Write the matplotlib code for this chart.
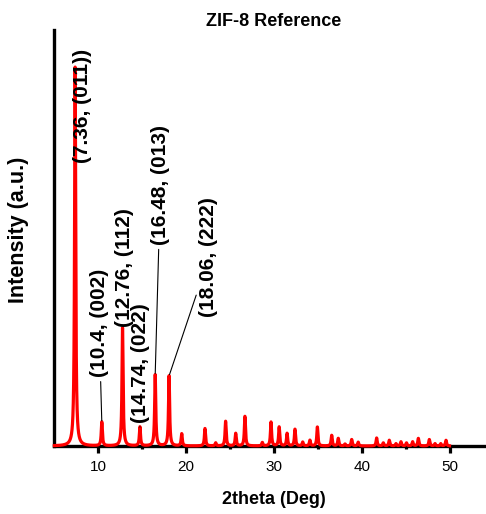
import numpy as np
import matplotlib
matplotlib.use("Agg")
import matplotlib.pyplot as plt

plt.rcParams["font.family"] = ["Liberation Sans", "DejaVu Sans"]

# Reflection positions (2theta, deg) and relative intensities of the ZIF-8 reference pattern
peak_pos = [7.36, 10.40, 12.76, 14.74, 16.48, 18.06, 19.50, 22.15, 23.37, 24.50,
            25.65, 26.70, 28.68, 29.67, 30.60, 31.50, 32.40, 33.28, 34.10, 34.95,
            36.58, 37.33, 38.10, 38.86, 39.60, 41.70, 42.46, 43.14, 43.90, 44.47,
            45.10, 45.80, 46.45, 47.70, 48.35, 49.00, 49.60]
peak_int = [100.0, 6.3, 31.2, 5.0, 18.8, 18.5, 3.2, 4.6, 0.8, 6.5,
            3.3, 7.8, 0.9, 6.3, 5.0, 3.3, 4.4, 1.0, 1.5, 5.0,
            2.8, 2.0, 0.5, 1.7, 1.0, 2.1, 0.8, 1.5, 0.6, 1.1,
            0.8, 1.1, 2.0, 1.7, 0.6, 0.6, 1.5]

# Labelled reflections: (2theta, Miller index)
label_pos = [7.36, 10.4, 12.76, 14.74, 16.48, 18.06]
label_text = ["(7.36, (011))", "(10.4, (002)", "(12.76, (112)",
              "(14.74, (022)", "(16.48, (013)", "(18.06, (222)"]
# where each label sits (text anchor in data units) and whether it has a leader line
label_xy = [(8.20, 74.6), (10.08, 18.1), (13.04, 31.3),
            (14.86, 6.2), (17.08, 53.0), (22.6, 34.0)]
label_leader = [False, True, False, True, True, True]

# Lorentzian profile built from the reflection list
fwhm = 0.15
tt = np.arange(5.0, 50.0001, 0.005)
inten = np.zeros_like(tt)
g = fwhm / 2.0
for p, h in zip(peak_pos, peak_int):
    inten += h * g**2 / ((tt - p) ** 2 + g**2)

fig = plt.figure(figsize=(4.86, 5.14), dpi=100)
ax = fig.add_axes([54.4 / 486, 1 - 446 / 514, (493.4 - 54.4) / 486, (446 - 30) / 514])

ax.plot(tt, inten, color="#ff0000", lw=2.3, solid_joinstyle="round", zorder=3, clip_on=False)

ax.set_xlim(5, 55)
ax.set_ylim(0, 109.8)

for s in ("top", "right"):
    ax.spines[s].set_visible(False)
for s in ("left", "bottom"):
    ax.spines[s].set_linewidth(2.4)

ax.set_yticks([])
ax.set_xticks([10, 20, 30, 40, 50])
ax.set_xticks([15, 25, 35, 45], minor=True)
ax.tick_params(axis="x", which="major", direction="out", length=5, width=2.3,
               labelsize=11, pad=5)
ax.tick_params(axis="x", which="minor", direction="out", length=2.5, width=2.3)

ax.set_xlabel("2theta (Deg)", fontsize=13, fontweight="bold", labelpad=12)
ax.set_ylabel("Intensity (a.u.)", fontsize=15.5, fontweight="bold")
ax.yaxis.set_label_coords(-0.057, 0.52)
ax.set_title("ZIF-8 Reference", fontsize=13, fontweight="bold", pad=3)

for pos, txt, (lx, ly), lead in zip(label_pos, label_text, label_xy, label_leader):
    top = peak_int[peak_pos.index(pos)]
    if lead:
        ax.annotate(txt, xy=(pos, top), xytext=(lx, ly), textcoords="data",
                    rotation=90, ha="center", va="bottom", fontsize=15,
                    fontweight="bold", zorder=4,
                    arrowprops=dict(arrowstyle="-", color="black", lw=0.8,
                                    shrinkA=1, shrinkB=1))
    else:
        ax.text(lx, ly, txt, rotation=90, ha="center", va="bottom",
                fontsize=15, fontweight="bold", zorder=4)

fig.savefig("out.png", dpi=100)
